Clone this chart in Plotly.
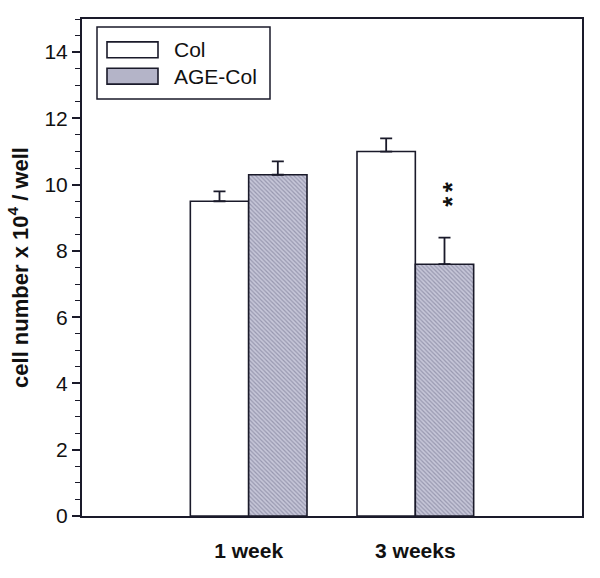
import plotly.graph_objects as go

categories = ["1 week", "3 weeks"]
series_names = ["Col", "AGE-Col"]
col_values = [9.5, 11.0]
col_err = [0.3, 0.4]
age_values = [10.3, 7.6]
age_err = [0.4, 0.8]
y_ticks = [0, 2, 4, 6, 8, 10, 12, 14]
signif_text = "*\u2006*"
signif_y = 9.71

FONT = "Arial, Liberation Sans, sans-serif"
INK = "#1a1a2a"
HATCH_BG = "#c6c6d8"
HATCH_FG = "#6a6a86"

fig = go.Figure()
fig.add_trace(go.Bar(
    name=series_names[0], x=categories, y=col_values, showlegend=False,
    marker=dict(color="white", line=dict(color=INK, width=1.6)),
    error_y=dict(type="data", array=col_err, arrayminus=[0, 0], symmetric=False,
                 color=INK, thickness=1.8, width=6),
))
fig.add_trace(go.Bar(
    name=series_names[1], x=categories, y=age_values, showlegend=False,
    marker=dict(color=HATCH_BG, line=dict(color=INK, width=1.6),
                pattern=dict(shape="\\", fgcolor=HATCH_FG, bgcolor=HATCH_BG,
                             size=3, solidity=0.4)),
    error_y=dict(type="data", array=age_err, arrayminus=[0, 0], symmetric=False,
                 color=INK, thickness=1.8, width=6),
))

# significance marks (stacked vertically) above the AGE-Col bar at 3 weeks
fig.add_annotation(x=1.175, y=signif_y, xref="x", yref="y", text="<b>" + signif_text + "</b>",
                   showarrow=False, textangle=-90,
                   font=dict(family=FONT, size=26, color="#111"),
                   xanchor="center", yanchor="middle", xshift=8)

# custom legend (box, swatches, labels) in paper coordinates
fig.add_shape(type="rect", xref="paper", yref="paper", x0=0.03, x1=0.376, y0=0.839, y1=0.984,
              line=dict(color=INK, width=1.5), fillcolor="white", layer="above")
fig.add_shape(type="rect", xref="paper", yref="paper", x0=0.05, x1=0.152, y0=0.922, y1=0.954,
              line=dict(color=INK, width=1.6), fillcolor="white", layer="above")
fig.add_shape(type="rect", xref="paper", yref="paper", x0=0.05, x1=0.152, y0=0.869, y1=0.901,
              line=dict(color=INK, width=1.6), fillcolor="#b4b4c8", layer="above")
for name, yc in zip(series_names, [0.938, 0.885]):
    fig.add_annotation(x=0.18, y=yc, xref="paper", yref="paper", text=name, showarrow=False,
                       xanchor="left", yanchor="middle",
                       font=dict(family=FONT, size=21, color="#111"))

fig.update_layout(
    width=600, height=578,
    margin=dict(l=82, r=18, t=19, b=62),
    paper_bgcolor="white", plot_bgcolor="white",
    barmode="group", bargap=0.3, bargroupgap=0,
    font=dict(family=FONT, color="#111"),
    showlegend=False,
)
fig.update_xaxes(
    range=[-1, 2], showline=True, linecolor=INK, linewidth=2, mirror=True,
    ticks="", tickfont=dict(family=FONT, size=21, color="#111", weight="bold"),
    ticklabelstandoff=15, showgrid=False, automargin=False,
)
fig.update_yaxes(
    range=[0, 15], showline=True, linecolor=INK, linewidth=2, mirror=True,
    tickvals=y_ticks, ticks="outside", ticklen=8, tickwidth=1.5, tickcolor=INK,
    minor=dict(dtick=0.5, ticks="outside", ticklen=5, tickwidth=1, tickcolor=INK),
    tickfont=dict(family=FONT, size=21, color="#111"),
    showgrid=False, zeroline=False, automargin=False,
    title=dict(text="<b>cell number x 10<sup>4</sup> / well</b>",
               font=dict(family=FONT, size=22, color="#111"), standoff=10),
)

fig.write_html("out.html", config={"displayModeBar": False},
               post_script="document.body.style.margin='0';")
